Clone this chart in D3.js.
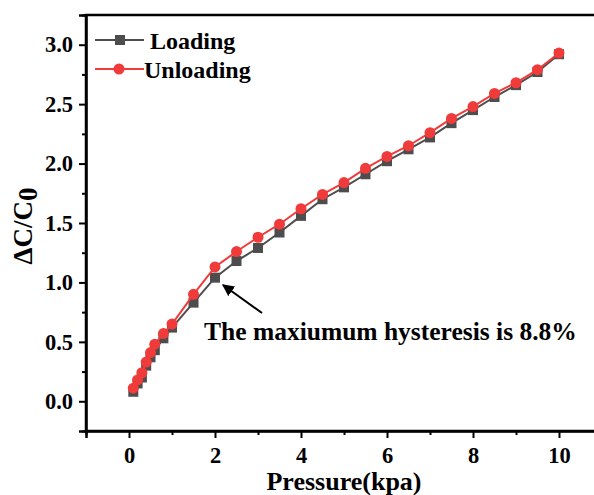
<!DOCTYPE html>
<html>
<head>
<meta charset="utf-8">
<script src="https://cdn.jsdelivr.net/npm/d3@7"></script>
<style>
  html, body { margin: 0; padding: 0; background: #fff; }
  svg { display: block; font-family: "Liberation Serif", "Times New Roman", serif; font-weight: bold; }
</style>
</head>
<body>
<svg id="chart" width="594" height="495"></svg>
<script>
// pressure (kpa)
const pressure = [0.1, 0.2, 0.3, 0.4, 0.5, 0.6, 0.8, 1.0, 1.5, 2.0, 2.5, 3.0, 3.5, 4.0, 4.5,
  5.0, 5.5, 6.0, 6.5, 7.0, 7.5, 8.0, 8.5, 9.0, 9.5, 10.0];
const loading = [0.08, 0.15, 0.20, 0.30, 0.37, 0.43, 0.53, 0.62, 0.83, 1.04, 1.18, 1.29, 1.42, 1.56, 1.70,
  1.80, 1.91, 2.02, 2.12, 2.22, 2.34, 2.45, 2.56, 2.66, 2.77, 2.92];
const unloading = [0.11, 0.18, 0.24, 0.33, 0.41, 0.48, 0.57, 0.65, 0.90, 1.13, 1.26, 1.38, 1.49, 1.62, 1.74,
  1.84, 1.96, 2.06, 2.15, 2.26, 2.38, 2.48, 2.59, 2.68, 2.79, 2.93];
const xTicks = [0, 2, 4, 6, 8, 10];
const yTicks = [0.0, 0.5, 1.0, 1.5, 2.0, 2.5, 3.0];

const svg = d3.select("#chart");
const plotL = 86, plotT = 15, plotB = 431, plotR = 602;

const x = d3.scaleLinear().domain([-1, 11]).range([plotL, plotR]);
const y = d3.scaleLinear().domain([-0.25, 3.25]).range([plotB, plotT]);

// frame
svg.append("rect")
  .attr("x", plotL).attr("y", plotT)
  .attr("width", plotR - plotL).attr("height", plotB - plotT)
  .attr("fill", "none").attr("stroke", "#000").attr("stroke-width", 2.5);

// x axis
svg.append("g")
  .attr("transform", `translate(0,${plotB})`)
  .call(d3.axisBottom(x).tickValues(xTicks).tickFormat(d3.format("d")).tickSize(7).tickPadding(9));
svg.append("g")
  .attr("transform", `translate(0,${plotB})`)
  .call(d3.axisBottom(x).tickValues(d3.range(-1, 11, 2)).tickFormat("").tickSize(4))
  .call(g => g.select(".domain").remove());

// y axis
svg.append("g")
  .attr("transform", `translate(${plotL},0)`)
  .call(d3.axisLeft(y).tickValues(yTicks).tickFormat(d3.format(".1f")).tickSize(7).tickPadding(6));
svg.append("g")
  .attr("transform", `translate(${plotL},0)`)
  .call(d3.axisLeft(y).tickValues(d3.range(-0.25, 3.3, 0.5)).tickFormat("").tickSize(4))
  .call(g => g.select(".domain").remove());

svg.selectAll(".domain").attr("stroke-width", 2.5);
svg.selectAll(".tick line").attr("stroke-width", 2);
svg.selectAll(".tick text")
  .attr("font-family", "Liberation Serif, serif")
  .attr("font-weight", "bold")
  .attr("font-size", 22.5)
  .attr("fill", "#000");

// axis titles
svg.append("text")
  .attr("x", 344).attr("y", 490)
  .attr("text-anchor", "middle")
  .attr("font-size", 26)
  .text("Pressure(kpa)");

const yt = svg.append("text")
  .attr("transform", "translate(32,226) rotate(-90)")
  .attr("text-anchor", "middle")
  .attr("font-size", 27);
yt.append("tspan").text("\u0394C/C");
yt.append("tspan").attr("dy", 5).text("0");

// series
const line = d3.line().x(d => x(d[0])).y(d => y(d[1]));
const loadPts = pressure.map((p, i) => [p, loading[i]]);
const unloadPts = pressure.map((p, i) => [p, unloading[i]]);

const grey = "#4d4d4d", red = "#f03b3b";

svg.append("path").datum(loadPts)
  .attr("d", line).attr("fill", "none").attr("stroke", grey).attr("stroke-width", 2);
svg.selectAll("rect.ld").data(loadPts).join("rect")
  .attr("class", "ld")
  .attr("x", d => x(d[0]) - 5).attr("y", d => y(d[1]) - 5)
  .attr("width", 10).attr("height", 10)
  .attr("fill", grey);

svg.append("path").datum(unloadPts)
  .attr("d", line).attr("fill", "none").attr("stroke", red).attr("stroke-width", 2);
svg.selectAll("circle.ul").data(unloadPts).join("circle")
  .attr("class", "ul")
  .attr("cx", d => x(d[0])).attr("cy", d => y(d[1]))
  .attr("r", 5.5)
  .attr("fill", red);

// legend
const lg = svg.append("g");
lg.append("line").attr("x1", 95).attr("x2", 144).attr("y1", 40).attr("y2", 40)
  .attr("stroke", grey).attr("stroke-width", 2);
lg.append("rect").attr("x", 115).attr("y", 35).attr("width", 10).attr("height", 10).attr("fill", grey);
lg.append("text").attr("x", 150).attr("y", 49).attr("font-size", 24).text("Loading");
lg.append("line").attr("x1", 95).attr("x2", 144).attr("y1", 69).attr("y2", 69)
  .attr("stroke", red).attr("stroke-width", 2);
lg.append("circle").attr("cx", 119).attr("cy", 69).attr("r", 5.5).attr("fill", red);
lg.append("text").attr("x", 144).attr("y", 78).attr("font-size", 24).text("Unloading");

// annotation
svg.append("defs").append("marker")
  .attr("id", "arrow").attr("viewBox", "0 0 10 10")
  .attr("refX", 9).attr("refY", 5)
  .attr("markerWidth", 6).attr("markerHeight", 6)
  .attr("orient", "auto")
  .append("path").attr("d", "M0,0 L10,5 L0,10 Z").attr("fill", "#000");
svg.append("line")
  .attr("x1", 262).attr("y1", 313).attr("x2", 223).attr("y2", 285)
  .attr("stroke", "#000").attr("stroke-width", 2)
  .attr("marker-end", "url(#arrow)");
svg.append("text").attr("x", 204).attr("y", 340).attr("font-size", 25.5)
  .text("The maxiumum hysteresis is 8.8%");
</script>
</body>
</html>
